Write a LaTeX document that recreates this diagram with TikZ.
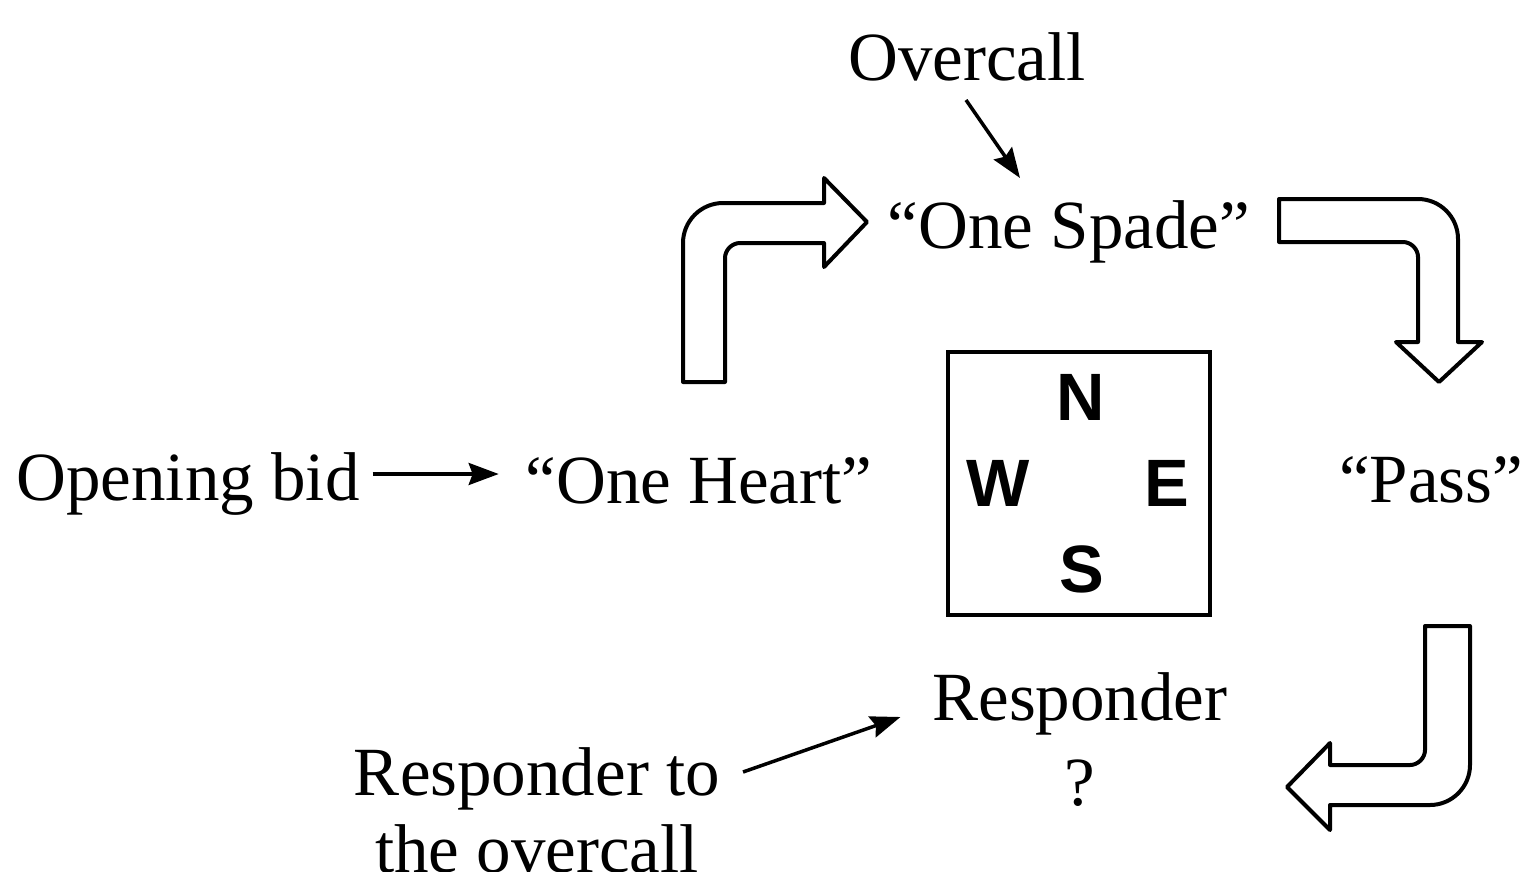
\documentclass[tikz,border=0pt]{standalone}
\usepackage{fontspec}
\setmainfont{Liberation Serif}
\newfontfamily\compassfont{Liberation Sans}
\usetikzlibrary{arrows.meta,calc}
\tikzset{
  lbl/.style={inner sep=0pt, outer sep=0pt, font=\fontsize{69}{77}\selectfont},
  dir/.style={font=\compassfont\bfseries\fontsize{67}{77}\selectfont, inner sep=0pt, anchor=base},
  conn/.style={line width=3.5pt, -{Stealth[length=30pt,width=22pt,inset=4pt]}},
  bigarrow/.style={draw=black, line width=4pt, line join=round, fill=white},
}
\begin{document}
\begin{tikzpicture}[x=1pt,y=-1pt]
\useasboundingbox (0,0) rectangle (1523,871);
% text nodes
\node[lbl, anchor=base] (opening) at (188,500) {Opening bid};
\node[lbl, anchor=base] (heart) at (699,503) {“One Heart”};
\node[lbl, anchor=base] (overcall) at (967,80) {Overcall};
\node[lbl, anchor=base] (spade) at (1069,248) {“One Spade”};
\node[lbl, anchor=base] (pass) at (1431,502) {“Pass”};
\node[lbl, anchor=north, align=center, font=\fontsize{69}{85}\selectfont] (resp) at (1080,673) {Responder\\?};
\node[lbl, anchor=north, align=center] (respto) at (537,748) {Responder to\\the overcall};
% compass box
\node[draw, line width=4pt, minimum width=262pt, minimum height=263pt, inner sep=0pt] (compass) at (1079,483) {};
\node[dir] (n) at (1081,420) {N};
\node[dir] (w) at (998,506) {W};
\node[dir] (e) at (1167,506) {E};
\node[dir] (s) at (1082,592) {S};
% connectors
\draw[conn] ($(opening.base east)+(13,-26)$) -- ($(heart.base west)+(-27,-29)$);
\draw[conn] ($(overcall.base)+(-1,20)$) -- ($(spade.base)+(-49,-70)$);
\draw[conn] ($(respto.north east)+(23,24)$) -- ($(resp.north west)+(-32,44)$);
% bent block arrows
\draw[bigarrow] (683,382) -- (683,243) .. controls (683,221) and (701,203) .. (723,203)
  -- (824,203) -- (824,178) -- (867,222) -- (824,267) -- (824,243) -- (740,243)
  .. controls (732,243) and (725,250) .. (725,258) -- (725,382) -- cycle;
\draw[bigarrow] (1279,199) -- (1418,199) .. controls (1440,199) and (1458,217) .. (1458,239)
  -- (1458,342) -- (1482,342) -- (1439,382) -- (1396,342) -- (1418,342) -- (1418,257)
  .. controls (1418,249) and (1411,242) .. (1403,242) -- (1279,242) -- cycle;
\draw[bigarrow] (1425,626) -- (1470,626) -- (1470,765) .. controls (1470,787) and (1452,805) .. (1430,805)
  -- (1330,805) -- (1330,830) -- (1287,787) -- (1330,743) -- (1330,765) -- (1410,765)
  .. controls (1418,765) and (1425,758) .. (1425,750) -- cycle;
\end{tikzpicture}
\end{document}
